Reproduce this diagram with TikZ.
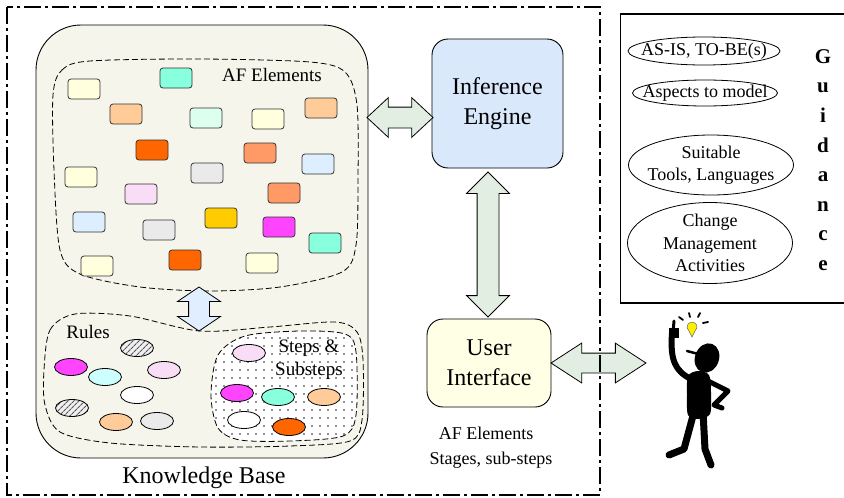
\documentclass[tikz,border=0pt]{standalone}
\usepackage{fontspec}
\setmainfont{Liberation Serif}
\usetikzlibrary{shapes.geometric,shapes.arrows,patterns.meta}

\definecolor{kbfill}{HTML}{F5F5EB}
\definecolor{iefill}{HTML}{DAE8FC}
\definecolor{uifill}{HTML}{FFFFE5}
\definecolor{arrowgreen}{HTML}{E3EEE3}
\definecolor{arrowblue}{HTML}{E0EEFF}
\definecolor{lyellow}{HTML}{FFFFDD}
\definecolor{aqua}{HTML}{88FFDD}
\definecolor{peach}{HTML}{FFCC99}
\definecolor{mint}{HTML}{DDFFEE}
\definecolor{dorange}{HTML}{FF6600}
\definecolor{coral}{HTML}{FF9966}
\definecolor{lblue}{HTML}{DDEEFF}
\definecolor{lgray}{HTML}{EAEAEA}
\definecolor{lpink}{HTML}{F9DDF6}
\definecolor{gold}{HTML}{FFCC00}
\definecolor{magen}{HTML}{FF44FF}
\definecolor{lcyan}{HTML}{CCFFFF}
\definecolor{bulb}{HTML}{FFEE00}

\begin{document}
\begin{tikzpicture}[x=1pt,y=-1pt,
  every node/.style={inner sep=0pt, outer sep=0pt},
  frame/.style={line width=1.8pt, dash pattern=on 17pt off 4pt on 3pt off 4pt},
  blockbox/.style={draw, line width=0.9pt, rounded corners=16pt, align=center,
    font=\fontsize{24}{30}\selectfont},
  elem/.style={draw=black!80, line width=0.8pt, rounded corners=3pt,
    minimum width=32pt, minimum height=20pt},
  token/.style={draw, ellipse, line width=0.8pt, minimum width=33pt, minimum height=17pt},
  hatched/.style={token, preaction={fill=gray!12},
    pattern={Lines[angle=45,distance=4pt,line width=1.1pt]}, pattern color=black!65},
  region/.style={line width=0.8pt, dash pattern=on 6pt off 3pt},
  fatarrow/.style={draw, line width=0.8pt, double arrow, double arrow head indent=0pt,
    inner xsep=0pt, inner ysep=10pt},
  guide/.style={draw, ellipse, line width=0.8pt},
  gtxt/.style={align=center, font=\fontsize{18}{22.5}\selectfont},
  lbl/.style={align=center, font=\fontsize{19}{23}\selectfont},
  figure/.style={line width=6pt, line cap=round, line join=round},
]
\useasboundingbox (0,0) rectangle (844,498);

% Knowledge base container
\node[blockbox, fill=kbfill, rounded corners=45pt, minimum width=332pt,
  minimum height=433pt] (kb) at (202,241.5) {};

% AF elements region
\draw[region] plot[smooth cycle] coordinates {(53,95) (62,70) (90,61) (200,59)
  (310,62) (345,72) (357,105) (358,180) (356,245) (342,272) (280,287) (210,291)
  (140,287) (80,274) (60,250) (54,170)};
\node[lbl] (aflabel) at (272,75) {AF Elements};

% AF element cards
\foreach \n/\x/\y/\c in {e1/84/89/lyellow, e2/176/78/aqua, e3/126/114/peach,
  e4/206/118/mint, e5/268/119/lyellow, e6/321/108/peach, e7/152/150/dorange,
  e8/260/153/coral, e9/318/164/lblue, e10/81/177/lyellow, e11/207/173/lgray,
  e12/141/194/lpink, e13/284/193/coral, e14/89/222/lblue, e15/159/230/lgray,
  e16/221/218/gold, e17/279/227/magen, e18/325/243/aqua, e19/97/266/lyellow,
  e20/185/260/dorange, e21/262/263/lyellow}
  \node[elem, fill=\c] (\n) at (\x,\y) {};

% Rules region
\draw[region] plot[smooth cycle] coordinates {(44,370) (50,330) (75,314) (130,316)
  (200,331) (270,327) (335,322) (357,332) (363,360) (362,420) (350,441) (290,446)
  (200,447) (110,443) (60,432) (45,405)};
\node[lbl] (rulelabel) at (88,332) {Rules};

% Steps and substeps region
\draw[region, preaction={fill=white}, pattern={Dots[radius=0.9pt,distance=8pt]},
  pattern color=black!85] plot[smooth cycle] coordinates {(211,395) (218,355)
  (245,336) (300,331) (345,334) (356,352) (356,415) (343,436) (290,441) (240,440)
  (218,428)};
\node[lbl] (steplabel) at (309,359.5) {Steps \&\\Substeps};

% Rule tokens
\node[hatched] (r1) at (137,348) {};
\node[token, fill=magen] (r2) at (71,367) {};
\node[token, fill=lpink] (r3) at (164,370) {};
\node[token, fill=lcyan] (r4) at (105,377) {};
\node[token, fill=white] (r5) at (137,395) {};
\node[hatched] (r6) at (72,408) {};
\node[token, fill=peach] (r7) at (116,422) {};
\node[token, fill=lgray] (r8) at (157,421) {};

% Step tokens
\node[token, fill=lpink] (s1) at (249,353) {};
\node[token, fill=magen] (s2) at (237,393) {};
\node[token, fill=aqua] (s3) at (278,397) {};
\node[token, fill=peach] (s4) at (324,397) {};
\node[token, fill=white] (s5) at (244,420) {};
\node[token, fill=dorange] (s6) at (289,427) {};

% Link between AF elements and rules
\node[fatarrow, fill=arrowblue, rotate=90, minimum height=44pt, minimum width=42pt,
  double arrow head extend=11pt, double arrow tip angle=112] (kbarrow) at (199,309) {};

\node[font=\fontsize{24}{28}\selectfont] (kblabel) at (204,478) {Knowledge Base};

% Inference engine and user interface
\node[blockbox, fill=iefill, minimum width=131pt, minimum height=129pt] (ie)
  at (497.5,103.5) {Inference\\Engine};
\node[blockbox, fill=uifill, minimum width=124pt, minimum height=88pt] (ui)
  at (489,363) {User\\Interface};

\node[fatarrow, fill=arrowgreen, minimum height=66pt, minimum width=39pt,
  double arrow head extend=9.5pt, double arrow tip angle=86] (kbie) at (400,117.5) {};
\node[fatarrow, fill=arrowgreen, rotate=90, minimum height=145pt, minimum width=42pt,
  inner ysep=10.5pt, double arrow head extend=10.5pt, double arrow tip angle=90]
  (ieui) at (488,244.5) {};
\node[fatarrow, fill=arrowgreen, minimum height=95pt, minimum width=39pt,
  inner ysep=9.5pt, double arrow head extend=10pt, double arrow tip angle=66]
  (uiuser) at (598.5,363) {};

\node[lbl, font=\fontsize{18}{22}\selectfont] (uitext1) at (486,433) {AF Elements};
\node[lbl, font=\fontsize{18}{22}\selectfont] (uitext2) at (491,460) {Stages, sub-steps};

% System boundary
\draw[frame] (7,7) rectangle (600,495);

% Guidance panel
\draw[line width=1.3pt] (844,14) -- (620.5,14) -- (620.5,303) -- (844,303);
\node[guide, minimum width=152pt, minimum height=28pt] (asis) at (704,51) {};
\node[gtxt] at (asis) {AS-IS, TO-BE(s)};
\node[guide, minimum width=145pt, minimum height=26pt] (aspects) at (705,93) {};
\node[gtxt] at (aspects) {Aspects to model};
\node[guide, minimum width=165pt, minimum height=60pt] (tools) at (711,165) {};
\node[gtxt] at (tools) {Suitable\\Tools, Languages};
\node[guide, minimum width=165pt, minimum height=81pt] (change) at (710,243) {};
\node[gtxt] at (change) {Change\\Management\\Activities};
\node[align=center, font=\fontsize{21}{29.6}\selectfont\bfseries] (guidance)
  at (823,160) {G\\u\\i\\d\\a\\n\\c\\e};

% User with an idea
\fill[black] (707,358) ellipse[x radius=12, y radius=15, rotate=-20];
\draw[line width=2.5pt, line cap=round] (687,351) -- (702,355);
\fill[black] plot[smooth cycle] coordinates {(688,376) (698,371) (709,375) (711,392)
  (710,414) (698,419) (688,415) (687,395)};
\draw[figure] (691,379) .. controls (675,371) and (670,360) .. (672,333);
\draw[figure, line width=3pt] (673,333) -- (674,321);
\fill[black] (669,328) rectangle (679,338);
\draw[figure, line width=5pt] (706,380) -- (728,391) -- (714,405) -- (722,408);
\draw[figure, line width=7pt] (694,412) -- (684,449) -- (669,455);
\draw[figure, line width=7pt] (703,412) -- (705,449) -- (711,465);
% light bulb and rays
\filldraw[fill=bulb, draw=black!60, line width=0.5pt] (692,337) -- (689,331)
  arc[start angle=127, end angle=413, radius=5] -- cycle;
\draw[line width=1.8pt, line cap=round] (679,317) -- (683,320)
  (689,313) -- (690,317) (700,313) -- (698,317) (703,323) -- (708,322);
\end{tikzpicture}
\end{document}
